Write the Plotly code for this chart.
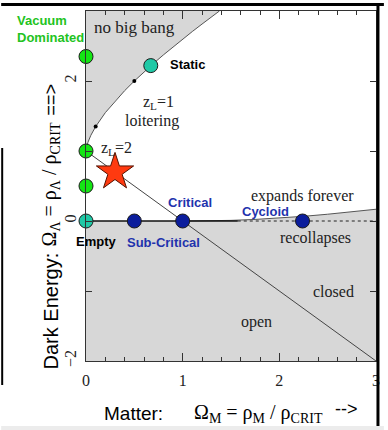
import plotly.graph_objects as go

# --- data -------------------------------------------------------------
# boundary of the "no big bang" (loitering) region, Omega_M vs Omega_Lambda
bang_om = [0.0, 0.005, 0.02, 0.05, 0.1, 0.2, 0.3, 0.4, 0.5, 0.6, 0.7, 0.8,
           0.9, 1.0, 1.1, 1.2, 1.3, 1.38]
bang_ol = [1.0, 1.05, 1.124, 1.224, 1.349, 1.548, 1.713, 1.862, 2.0, 2.13,
           2.253, 2.372, 2.487, 2.598, 2.707, 2.813, 2.917, 3.0]

# boundary between "expands forever" and "recollapses"
coll_om = [1.0, 1.25, 1.5, 1.75, 2.0, 2.25, 2.5, 2.75, 3.0]
coll_ol = [0.0, 0.0015, 0.0087, 0.0224, 0.0419, 0.0667, 0.0968, 0.1307, 0.168]

# flat universes (open / closed divide)
flat_om = [0.0, 1.0, 3.0]
flat_ol = [1.0, 0.0, -2.0]

# loitering redshift markers z_L = 2, z_L = 1
loiter_om = [0.1, 0.5]
loiter_ol = [1.349, 2.0]

# model universes
vacuum_om = [0.0, 0.0, 0.0]
vacuum_ol = [2.35, 1.0, 0.5]
special_om = [0.0, 0.67]          # Empty, Static
special_ol = [0.0, 2.22]
matter_om = [0.5, 1.0, 2.24]      # Sub-Critical, Critical, Cycloid
matter_ol = [0.0, 0.0, 0.0]
ours_om = [0.3]
ours_ol = [0.7]

x_ticks = [0, 1, 2, 3]
x_labels = ["0", "1", "2", "3"]
y_ticks = [-2, -1, 0, 1, 2, 3]
y_labels = ["\u22122", "", "0", "", "2", ""]

# --- styling ----------------------------------------------------------
SANS = "Liberation Sans, Arial, sans-serif"
SERIF = "Liberation Serif, Times New Roman, serif"
FILL = "#d7d7d7"
GREEN = "#14e614"
GREEN_TXT = "#22c322"
TEAL = "#1fc9a6"
NAVY = "#0b1d9c"
BLUE_TXT = "#1f33ad"

fig = go.Figure()

# shaded regions
fig.add_trace(go.Scatter(
    x=bang_om + [0.0], y=bang_ol + [3.0], fill="toself", fillcolor=FILL,
    mode="none", hoverinfo="skip"))
fig.add_trace(go.Scatter(
    x=[0.0] + coll_om + [3.0, 0.0], y=[0.0] + coll_ol + [-2.0, -2.0],
    fill="toself", fillcolor=FILL, mode="none", hoverinfo="skip"))

# boundary curves
fig.add_trace(go.Scatter(x=bang_om, y=bang_ol, mode="lines",
                         line=dict(color="#555555", width=1)))
fig.add_trace(go.Scatter(x=coll_om, y=coll_ol, mode="lines",
                         line=dict(color="#555555", width=1)))
fig.add_trace(go.Scatter(x=flat_om, y=flat_ol, mode="lines",
                         line=dict(color="#444444", width=1)))
fig.add_trace(go.Scatter(x=[0.0, 1.57], y=[0.0, 0.0], mode="lines",
                         line=dict(color="#111111", width=1.5)))
fig.add_trace(go.Scatter(x=[1.57, 3.0], y=[0.0, 0.0], mode="lines",
                         line=dict(color="#222222", width=1, dash="dot")))

# loitering dots
fig.add_trace(go.Scatter(x=loiter_om, y=loiter_ol, mode="markers",
                         marker=dict(color="black", size=4)))

# model universes
ring = dict(color="#1a1a1a", width=1)
fig.add_trace(go.Scatter(x=vacuum_om, y=vacuum_ol, mode="markers", cliponaxis=False,
                         marker=dict(color=GREEN, size=14, line=ring)))
fig.add_trace(go.Scatter(x=special_om, y=special_ol, mode="markers", cliponaxis=False,
                         marker=dict(color=TEAL, size=14, line=ring)))
fig.add_trace(go.Scatter(x=matter_om, y=matter_ol, mode="markers", cliponaxis=False,
                         marker=dict(color=NAVY, size=14, line=ring)))
fig.add_trace(go.Scatter(x=ours_om, y=ours_ol, mode="markers", cliponaxis=False,
                         marker=dict(symbol="star", color="#ff3a10", size=28,
                                     line=dict(color="#551100", width=1))))


def label(x, y, text, font, size, color="#222222", **kw):
    kw.setdefault("xanchor", "center")
    kw.setdefault("yanchor", "middle")
    fig.add_annotation(x=x, y=y, text=text, showarrow=False,
                       font=dict(family=font, size=size, color=color), **kw)


# region names
label(0.5, 2.76, "no big bang", SERIF, 17)
label(0.755, 1.70, "z<sub>L</sub>=1", SERIF, 16)
label(0.684, 1.43, "loitering", SERIF, 16)
label(0.316, 1.03, "z<sub>L</sub>=2", SERIF, 16)
label(2.235, 0.36, "expands forever", SERIF, 16)
label(2.378, -0.243, "recollapses", SERIF, 16)
label(2.561, -1.0, "closed", SERIF, 16)
label(1.765, -1.443, "open", SERIF, 16)

# model names
label(0.85, 2.23, "<b>Static</b>", SANS, 13, "black", xanchor="left")
label(0.112, -0.29, "<b>Empty</b>", SANS, 13, "black")
label(0.806, -0.30, "<b>Sub-Critical</b>", SANS, 13, BLUE_TXT)
label(1.08, 0.26, "<b>Critical</b>", SANS, 13, BLUE_TXT)
label(1.857, 0.13, "<b>Cycloid</b>", SANS, 13, BLUE_TXT)

# outer labels (paper coordinates)
paper = dict(xref="paper", yref="paper")
label(-0.245, 0.949, "<b>Vacuum<br>Dominated</b>", SANS, 13, GREEN_TXT,
      xanchor="left", align="left", **paper)
label(-0.1224, 0.143, "Dark Energy:", SANS, 20, "black", textangle=-90, **paper)
label(-0.1224, 0.503, "\u03a9<sub>\u039b</sub> = \u03c1<sub>\u039b</sub> / \u03c1<sub>CRIT</sub>",
      SERIF, 20, "black", textangle=-90, **paper)
label(-0.1224, 0.746, "==>", SANS, 18, "black", textangle=-90, **paper)
label(0.163, -0.149, "Matter:", SANS, 19, "black", **paper)
label(0.595, -0.149, "\u03a9<sub>M</sub> = \u03c1<sub>M</sub> / \u03c1<sub>CRIT</sub>",
      SERIF, 20, "black", **paper)
label(0.898, -0.137, "-->", SANS, 18, "black", **paper)

# slide frame around the figure
fig.add_shape(type="line", xref="paper", yref="paper", x0=-0.2925, x1=1.0272,
              y0=1.0186, y1=1.0186, line=dict(color="black", width=3))
fig.add_shape(type="line", xref="paper", yref="paper", x0=1.0068, x1=1.0068,
              y0=-0.19, y1=1.0229, line=dict(color="black", width=3))
fig.add_shape(type="line", xref="paper", yref="paper", x0=-0.2890, x1=-0.2890,
              y0=-0.0686, y1=0.6086, line=dict(color="black", width=2))
fig.add_shape(type="rect", xref="paper", yref="paper", x0=-0.2925, x1=1.0272,
              y0=-0.197, y1=-0.186, line=dict(width=0), fillcolor="#ececec")

axis_common = dict(showgrid=False, zeroline=False, showline=True,
                   linecolor="#333333", linewidth=1, mirror="ticks",
                   ticks="inside", tickcolor="#333333",
                   tickfont=dict(family=SERIF, size=16, color="#222222"))

fig.update_layout(
    width=388, height=430,
    margin=dict(l=86, r=8, t=11, b=69),
    paper_bgcolor="white", plot_bgcolor="white",
    showlegend=False, hovermode=False,
    xaxis=dict(range=[0, 3], tickvals=x_ticks, ticktext=x_labels,
               ticklen=8, ticklabelstandoff=5,
               minor=dict(dtick=0.2, ticks="inside", ticklen=4,
                          tickcolor="#333333"),
               **axis_common),
    yaxis=dict(range=[-2, 3], tickvals=y_ticks, ticktext=y_labels,
               ticklen=6, tickangle=-90, ticklabelstandoff=3,
               **axis_common),
)

fig.write_html("out.html")
